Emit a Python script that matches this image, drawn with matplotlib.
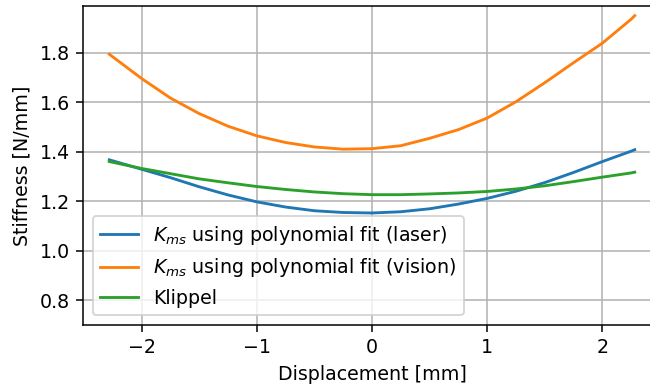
import numpy as np
import matplotlib
matplotlib.use("Agg")
import matplotlib.pyplot as plt

# displacement [mm]
x = np.array([-2.28, -2.0, -1.75, -1.5, -1.25, -1.0, -0.75, -0.5, -0.25, 0.0,
              0.25, 0.5, 0.75, 1.0, 1.25, 1.5, 1.75, 2.0, 2.25, 2.28])

# stiffness [N/mm]
k_laser = np.array([1.368, 1.330, 1.296, 1.259, 1.226, 1.198, 1.177, 1.162, 1.155, 1.153,
                    1.158, 1.170, 1.189, 1.212, 1.241, 1.276, 1.317, 1.361, 1.403, 1.409])
k_vision = np.array([1.795, 1.697, 1.618, 1.555, 1.504, 1.465, 1.438, 1.420, 1.411, 1.413,
                     1.425, 1.455, 1.490, 1.537, 1.603, 1.680, 1.761, 1.840, 1.937, 1.951])
k_klippel = np.array([1.361, 1.333, 1.312, 1.291, 1.275, 1.260, 1.248, 1.238, 1.231, 1.227,
                      1.227, 1.230, 1.234, 1.240, 1.250, 1.263, 1.280, 1.298, 1.315, 1.318])

dpi = 137
fig = plt.figure(figsize=(650 / dpi, 387 / dpi), dpi=dpi)
# axes runs past the right border, the reference is cropped there
ax = fig.add_axes([83 / 650, (387 - 325) / 387, (661 - 83) / 650, (325 - 6) / 387])

ax.plot(x, k_laser, label=r"$K_{ms}$ using polynomial fit (laser)")
ax.plot(x, k_vision, label=r"$K_{ms}$ using polynomial fit (vision)")
ax.plot(x, k_klippel, label="Klippel")

ax.set_ylim(0.7, 1.99)
ax.set_yticks([0.8, 1.0, 1.2, 1.4, 1.6, 1.8])
ax.set_xticks([-2, -1, 0, 1, 2])
ax.set_xlabel("Displacement [mm]")
ax.set_ylabel("Stiffness [N/mm]")
ax.grid(True)
ax.legend(loc="lower left")

fig.savefig("out.png", dpi=dpi)
